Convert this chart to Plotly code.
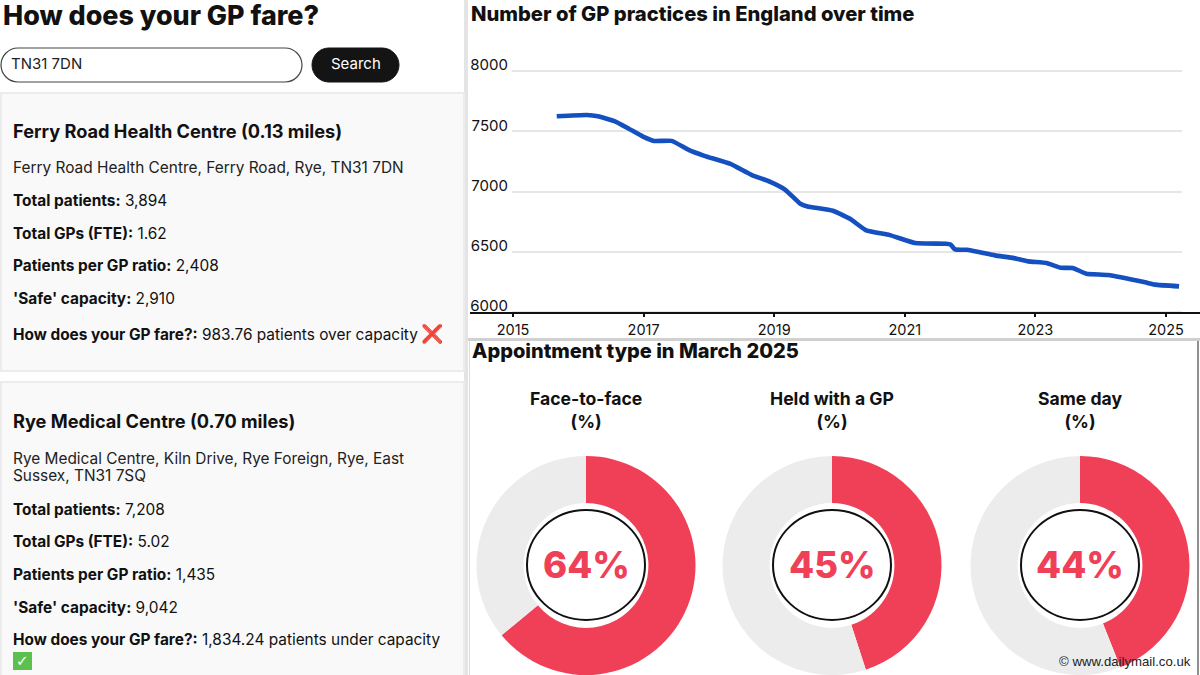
import plotly.graph_objects as go

W, H = 1200, 675

# ---- data ----
years = [2015.67, 2016.13, 2016.30, 2016.57, 2016.78, 2016.99, 2017.16, 2017.43, 2017.69, 2017.93,
         2018.33, 2018.65, 2018.94, 2019.17, 2019.40, 2019.51, 2019.90, 2020.16, 2020.41, 2020.77,
         2021.16, 2021.63, 2021.70, 2021.77, 2021.95, 2022.38, 2022.67, 2022.89, 2023.17, 2023.39,
         2023.57, 2023.78, 2024.11, 2024.68, 2024.83, 2025.20]
practices = [7624, 7635, 7624, 7580, 7519, 7456, 7420, 7420, 7345, 7296,
             7229, 7138, 7080, 7014, 6898, 6876, 6840, 6773, 6677, 6638,
             6572, 6566, 6560, 6519, 6516, 6470, 6447, 6420, 6406, 6367,
             6365, 6318, 6307, 6246, 6227, 6213]
x_ticks = [2015, 2017, 2019, 2021, 2023, 2025]
y_ticks = [6000, 6500, 7000, 7500, 8000]

donut_labels = ["Face-to-face", "Held with a GP", "Same day"]
donut_values = [64, 45, 44]
donut_centres = [586, 832, 1080]

card1 = ["<b>Total patients:</b> 3,894", "<b>Total GPs (FTE):</b> 1.62",
         "<b>Patients per GP ratio:</b> 2,408", "<b>'Safe' capacity:</b> 2,910",
         "<b>How does your GP fare?:</b> 983.76 patients over capacity"]
card1_y = [200, 233, 265, 298, 334]
card2 = ["<b>Total patients:</b> 7,208", "<b>Total GPs (FTE):</b> 5.02",
         "<b>Patients per GP ratio:</b> 1,435", "<b>'Safe' capacity:</b> 9,042",
         "<b>How does your GP fare?:</b> 1,834.24 patients under capacity"]
card2_y = [509, 541, 574, 607, 639]

INK = "#111111"
RED = "#f04058"
GREY = "#ececec"
BLUE = "#1550c0"
FONT = "Inter, Liberation Sans, sans-serif"


def px(x):
    return x / W


def py(y):
    return 1 - y / H


def rect(x0, y0, x1, y1, fill="rgba(0,0,0,0)", line=None, lw=1, layer="below"):
    return dict(type="rect", xref="paper", yref="paper", x0=px(x0), x1=px(x1), y0=py(y0), y1=py(y1),
                fillcolor=fill, line=dict(color=line or "rgba(0,0,0,0)", width=lw if line else 0), layer=layer)


def pill(x0, y0, x1, y1, fill, line=None, lw=1):
    r = (y1 - y0) / 2
    p = (f"M {px(x0 + r)} {py(y0)} L {px(x1 - r)} {py(y0)} "
         f"C {px(x1 - r * .45)} {py(y0)} {px(x1)} {py(y0 + r * .45)} {px(x1)} {py(y0 + r)} "
         f"C {px(x1)} {py(y1 - r * .45)} {px(x1 - r * .45)} {py(y1)} {px(x1 - r)} {py(y1)} "
         f"L {px(x0 + r)} {py(y1)} "
         f"C {px(x0 + r * .45)} {py(y1)} {px(x0)} {py(y1 - r * .45)} {px(x0)} {py(y0 + r)} "
         f"C {px(x0)} {py(y0 + r * .45)} {px(x0 + r * .45)} {py(y0)} {px(x0 + r)} {py(y0)} Z")
    return dict(type="path", xref="paper", yref="paper", path=p, fillcolor=fill,
                line=dict(color=line or fill, width=lw), layer="below")


def text(x, y, s, size=15, color=INK, anchor="left", font=FONT, weight=None):
    f = dict(size=size, color=color, family=font)
    if weight:
        f["weight"] = weight
    return dict(x=px(x), y=py(y), xref="paper", yref="paper", text=s, showarrow=False,
                xanchor=anchor, yanchor="middle", align=anchor, font=f)


fig = go.Figure()

fig.add_trace(go.Scatter(x=years, y=practices, mode="lines",
                         line=dict(color=BLUE, width=4.6, shape="spline", smoothing=0.4),
                         showlegend=False, hoverinfo="skip"))

for cx, v in zip(donut_centres, donut_values):
    R = 110
    fig.add_trace(go.Pie(values=[v, 100 - v], hole=0.57, sort=False, direction="clockwise", rotation=0,
                         marker=dict(colors=[RED, GREY], line=dict(width=0)),
                         textinfo="none", hoverinfo="skip", showlegend=False,
                         domain=dict(x=[px(cx - R), px(cx + R)], y=[max(py(566 + R), 0), py(566 - R)])))

shapes = [
    rect(464, 0, 468, H, fill="#e4e4e4"),
    rect(468, 338, W, 341, fill="#d0d0d0"),
    rect(1197.5, 341, 1198.5, H, fill="#222222"),
    rect(469, 341, 470, H, fill="#dddddd"),
    rect(1, 93, 464, 371, fill="#f9f9f9", line="#ececec", lw=2),
    rect(1, 382, 464, H + 5, fill="#f9f9f9", line="#ececec", lw=2),
    pill(1, 48, 302, 82, "#ffffff", "#444444", 1.2),
    pill(312, 48, 399, 82, "#141414"),
    rect(470, 312, W, 314, fill="#111111", layer="above"),
    rect(13, 652, 32, 670, fill="#5cc04e"),
]
for cx in donut_centres:
    shapes.append(dict(type="circle", xref="paper", yref="paper", x0=px(cx - 59), x1=px(cx + 59),
                       y0=py(565 + 55), y1=py(565 - 55), fillcolor="#ffffff",
                       line=dict(color="#111111", width=2), layer="above"))

ann = [
    text(0.5, 15, "How does your GP fare?", 26.9, weight=800),
    text(9, 64, "TN31 7DN", 15, "#222222"),
    text(356, 64, "Search", 15, "#ffffff", "center"),
    text(11, 131, "<b>Ferry Road Health Centre (0.13 miles)</b>", 18.2),
    text(11, 167, "Ferry Road Health Centre, Ferry Road, Rye, TN31 7DN", 15.4, "#222222"),
    text(419, 334, "❌", 18, "#d8362a", font="DejaVu Sans"),
    text(11, 421, "<b>Rye Medical Centre (0.70 miles)</b>", 18.2),
    text(11, 458, "Rye Medical Centre, Kiln Drive, Rye Foreign, Rye, East", 15.4, "#222222"),
    text(11, 476, "Sussex, TN31 7SQ", 15.4, "#222222"),
    text(22.5, 661, "<b>✓</b>", 15, "#ffffff", "center", "DejaVu Sans"),
    text(469, 13, "Number of GP practices in England over time", 20.2, weight=800),
    text(470, 351, "Appointment type in March 2025", 20, weight=800),
    text(1125, 661, "© www.dailymail.co.uk", 13.2, "#222222", "center", "Liberation Sans"),
]
for s, y in zip(card1, card1_y):
    ann.append(text(11, y, s, 15.4))
for s, y in zip(card2, card2_y):
    ann.append(text(11, y, s, 15.4))
for cx, lab, v in zip(donut_centres, donut_labels, donut_values):
    ann.append(text(cx, 410, f"<b>{lab}<br>(%)</b>", 17.6, INK, "center"))
    ann.append(text(cx, 565, f"{v}%", 36.5, RED, "center", weight=800))

# x axis: 2015 sits at px 513 and 2025 at px 1166
ppy = (1166 - 513) / 10
fig.update_layout(
    width=W, height=H, margin=dict(l=0, r=0, t=0, b=0, autoexpand=False), autosize=False,
    paper_bgcolor="#ffffff", plot_bgcolor="rgba(0,0,0,0)", showlegend=False,
    font=dict(family=FONT, color=INK),
    xaxis=dict(domain=[px(512), px(1182)], range=[2015 - 1 / ppy, 2015 + (1182 - 513) / ppy],
               tickmode="array", tickvals=x_ticks, ticktext=[str(t) for t in x_ticks],
               showgrid=False, zeroline=False, showline=False, ticks="outside", ticklen=3,
               tickwidth=1.5, tickcolor="#111111", tickfont=dict(size=14.5, color=INK),
               anchor="y"),
    yaxis=dict(domain=[py(313.2), py(69.8)], range=[5990, 8010], tickmode="array", tickvals=y_ticks,
               ticktext=[str(t) for t in y_ticks], showgrid=True, gridcolor="#e6e6e6", gridwidth=1.5,
               zeroline=False, showline=False, ticks="", ticklabelshift=-6, ticklabelstandoff=3,
               tickfont=dict(size=15, color=INK), anchor="x"),
    shapes=shapes, annotations=ann,
)

fig.write_html("out.html", post_script="document.body.style.margin='0';",
               config={"displayModeBar": False})
